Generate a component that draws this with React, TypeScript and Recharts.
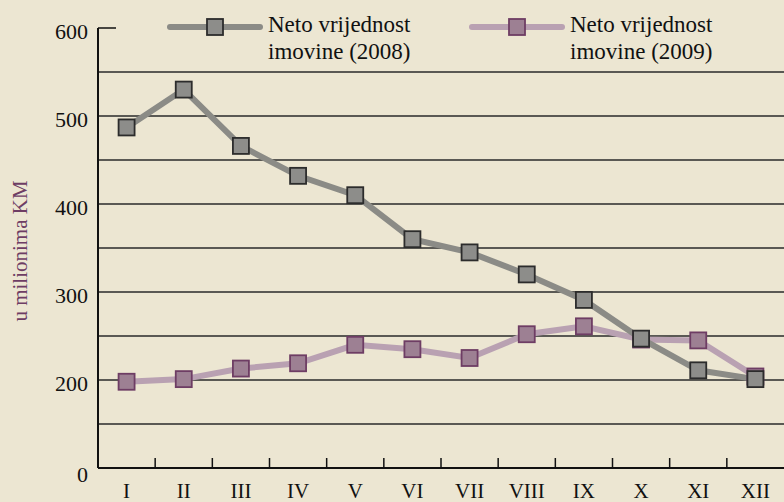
import { LineChart, Line, XAxis, YAxis, ReferenceLine } from 'recharts';

const months = ['I', 'II', 'III', 'IV', 'V', 'VI', 'VII', 'VIII', 'IX', 'X', 'XI', 'XII'];
const netWorth2008 = [487, 530, 466, 432, 410, 360, 345, 320, 291, 247, 211, 201];
const netWorth2009 = [198, 201, 213, 219, 240, 235, 225, 252, 261, 246, 245, 204];
const yTickValues = [0, 150, 200, 250, 300, 350, 400, 450, 500, 550, 600];
const yLabelled = [0, 200, 300, 400, 500, 600];
const gridValues = [150, 200, 250, 300, 350, 400, 450, 500, 550];

// the axis is broken below 200: 0..150 is squeezed into one grid step
const toAxis = (v: number) => (v >= 150 ? v - 100 : v / 3);
const fromAxis = (t: number) => (t >= 50 ? t + 100 : t * 3);

const data = months.map((m, i) => ({
  month: m,
  y2008: toAxis(netWorth2008[i]),
  y2009: toAxis(netWorth2009[i]),
}));

const FONT = '"Liberation Serif", "Times New Roman", serif';
const GRAY_LINE = '#8b8b86';
const GRAY_FILL = '#8d8d8a';
const GRAY_EDGE = '#2c2c2c';
const PINK_LINE = '#b9a1b2';
const PINK_FILL = '#9d8093';
const PINK_EDGE = '#6e3d64';

const square = (fill: string, stroke: string) => (props: any) => {
  const { cx, cy, index } = props;
  if (cx == null || cy == null) return <g key={index} />;
  return (
    <rect key={index} x={cx - 8} y={cy - 8} width={16} height={16}
      fill={fill} stroke={stroke} strokeWidth={1.8} />
  );
};

const XTick = (props: any) => {
  const { x, y, payload, index } = props;
  const half = payload?.offset || 28.6;
  return (
    <g>
      {index > 0 && (
        <line x1={x - half} x2={x - half} y1={y} y2={y - 10} stroke="#111" strokeWidth={1.5} />
      )}
      <text x={x} y={y + 30} textAnchor="middle" fontFamily={FONT} fontSize={21} fill="#111">
        {payload.value}
      </text>
    </g>
  );
};

const YTick = (props: any) => {
  const { x, y, payload } = props;
  const v = fromAxis(payload.value);
  if (!yLabelled.includes(v)) return <g />;
  return (
    <g>
      {v === 600 && <line x1={x} x2={x + 18} y1={y} y2={y} stroke="#111" strokeWidth={1.5} />}
      <text x={x - 10} y={y + (v === 0 ? 14 : 11)} textAnchor="end" fontFamily={FONT} fontSize={22} fill="#111">
        {v}
      </text>
    </g>
  );
};

function LegendItem({ x, color, fill, edge, label }: { x: number; color: string; fill: string; edge: string; label: string[] }) {
  return (
    <g>
      <line x1={x} x2={x + 90} y1={27} y2={27} stroke={color} strokeWidth={6} strokeLinecap="round" />
      <rect x={x + 37} y={19} width={16} height={16} fill={fill} stroke={edge} strokeWidth={1.8} />
      <text x={x + 98} y={32} fontFamily={FONT} fontSize={23} fill="#111">{label[0]}</text>
      <text x={x + 98} y={59} fontFamily={FONT} fontSize={23} fill="#111">{label[1]}</text>
    </g>
  );
}

export default function App() {
  return (
    <div style={{ position: 'absolute', left: 0, top: 0, width: 784, height: 502, background: '#ece6d2' }}>
      <LineChart width={784} height={502} data={data} margin={{ top: 28, right: 0, left: 0, bottom: 0 }}>
        {gridValues.map((g) => (
          <ReferenceLine key={g} y={toAxis(g)} stroke="#2a2a2a" strokeWidth={1.3} />
        ))}
        <XAxis dataKey="month" scale="band" height={34} axisLine={{ stroke: '#111', strokeWidth: 2 }}
          tickLine={false} tickSize={0} tickMargin={0} tick={<XTick />} interval={0} />
        <YAxis type="number" domain={[0, 500]} ticks={yTickValues.map(toAxis)} width={98}
          axisLine={{ stroke: '#111', strokeWidth: 2 }} tickLine={false} tickSize={0} tickMargin={0}
          tick={<YTick />} interval={0} />
        <Line dataKey="y2009" stroke={PINK_LINE} strokeWidth={6} isAnimationActive={false}
          dot={square(PINK_FILL, PINK_EDGE)} activeDot={false} />
        <Line dataKey="y2008" stroke={GRAY_LINE} strokeWidth={6} isAnimationActive={false}
          dot={square(GRAY_FILL, GRAY_EDGE)} activeDot={false} />
      </LineChart>
      <svg width={784} height={70} style={{ position: 'absolute', left: 0, top: 0 }}>
        <LegendItem x={170} color={GRAY_LINE} fill={GRAY_FILL} edge={GRAY_EDGE} label={['Neto vrijednost', 'imovine (2008)']} />
        <LegendItem x={472} color={PINK_LINE} fill={PINK_FILL} edge={PINK_EDGE} label={['Neto vrijednost', 'imovine (2009)']} />
      </svg>
      <svg width={40} height={502} style={{ position: 'absolute', left: 0, top: 0 }}>
        <text x={0} y={0} transform="translate(27 251) rotate(-90)" textAnchor="middle"
          fontFamily={FONT} fontSize={21} fill={PINK_EDGE}>u milionima KM</text>
      </svg>
    </div>
  );
}
